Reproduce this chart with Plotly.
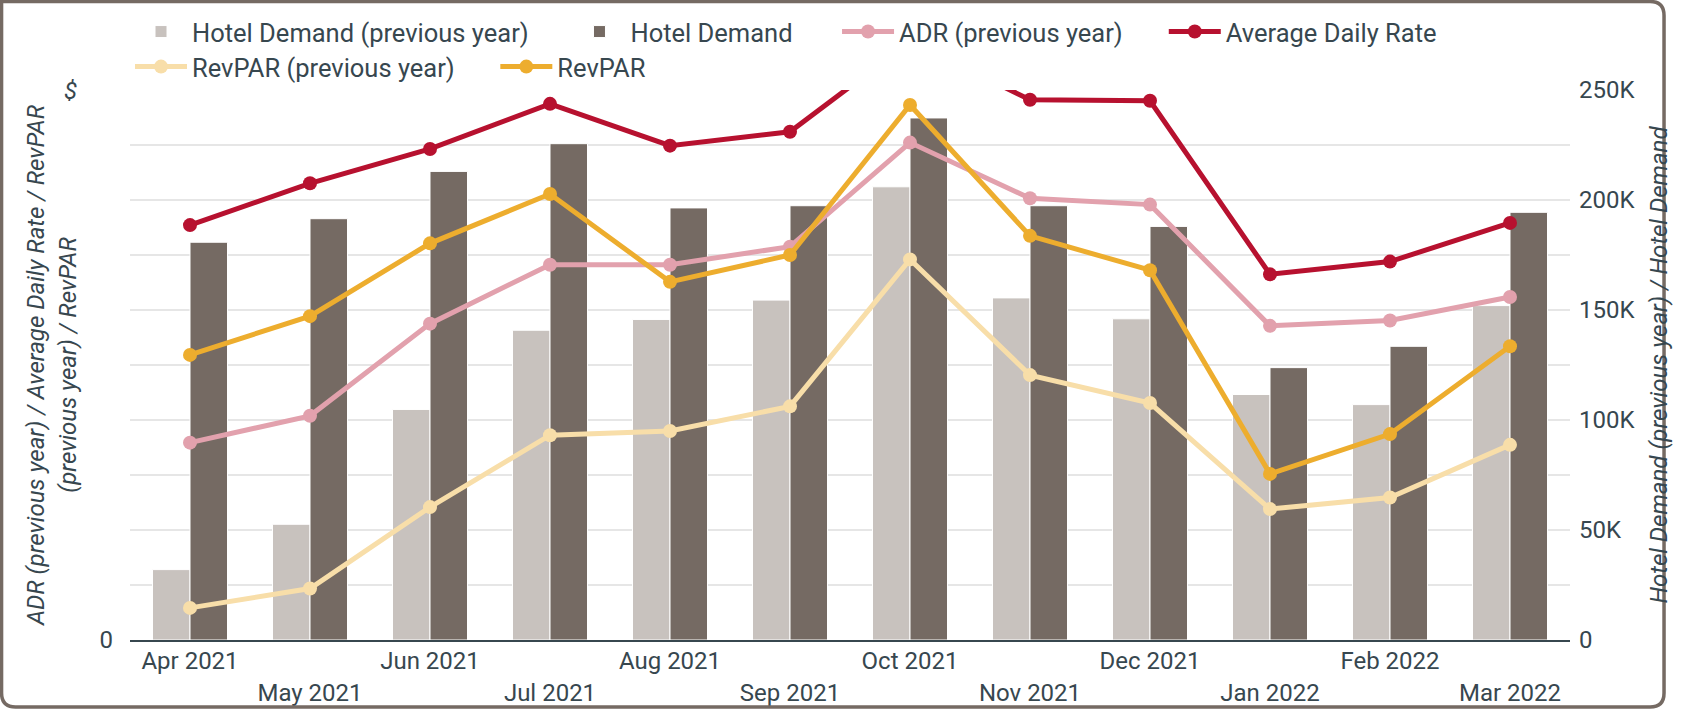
import plotly.graph_objects as go

months = ["Apr 2021", "May 2021", "Jun 2021", "Jul 2021", "Aug 2021", "Sep 2021",
          "Oct 2021", "Nov 2021", "Dec 2021", "Jan 2022", "Feb 2022", "Mar 2022"]

hotel_demand_prev = [32000, 52600, 104800, 140800, 145700, 154500, 206000, 155500, 146000, 111600, 107000, 152000]
hotel_demand = [180800, 191500, 213000, 225600, 196400, 197400, 237300, 197400, 188000, 123800, 133500, 194400]

adr_prev = [89.7, 101.9, 143.8, 170.6, 170.6, 178.8, 226.1, 200.8, 197.9, 142.8, 145.2, 155.9]
adr = [188.6, 207.6, 223.2, 243.7, 224.7, 231.0, 272.0, 245.6, 245.1, 166.2, 172.0, 189.6]
revpar_prev = [14.6, 23.4, 60.4, 93.1, 95.0, 106.2, 173.0, 120.4, 107.7, 59.5, 64.8, 88.7]
revpar = [129.6, 147.2, 180.3, 202.7, 162.8, 175.0, 243.2, 183.7, 168.1, 75.5, 93.6, 133.5]

demand_ticks = [0, 50000, 100000, 150000, 200000, 250000]
demand_ticktext = ["0", "50K", "100K", "150K", "200K", "250K"]

TEXT = "#37474f"
FONT = "Roboto"
FS = 24
LFS = 25.5

fig = go.Figure()

fig.add_trace(go.Bar(x=months, y=hotel_demand_prev, name="Hotel Demand (previous year)",
                     marker=dict(color="#c8c2be", line=dict(color="white", width=1)),
                     yaxis="y", legend="legend"))
fig.add_trace(go.Bar(x=months, y=hotel_demand, name="Hotel Demand",
                     marker=dict(color="#756a63", line=dict(color="white", width=1)),
                     yaxis="y", legend="legend2"))

line_series = [
    ("ADR (previous year)", adr_prev, "#e2a1ad", "legend3"),
    ("Average Daily Rate", adr, "#b7112f", "legend4"),
    ("RevPAR (previous year)", revpar_prev, "#f8dea9", "legend5"),
    ("RevPAR", revpar, "#edad2e", "legend6"),
]
for name, vals, col, leg in line_series:
    fig.add_trace(go.Scatter(x=months, y=vals, name=name, mode="lines+markers",
                             line=dict(color=col, width=5), marker=dict(color=col, size=14),
                             yaxis="y2", legend=leg))

# invisible trace so the second-row label axis is drawn
fig.add_trace(go.Scatter(x=[0], y=[0], xaxis="x2", yaxis="y", mode="markers",
                         marker=dict(opacity=0), showlegend=False, hoverinfo="skip"))

legend_common = dict(orientation="h", xanchor="left", yanchor="middle",
                     font=dict(size=LFS, color=TEXT), traceorder="normal",
                     itemwidth=52, tracegroupgap=0, bgcolor="rgba(0,0,0,0)")
ROW1, ROW2 = 1.1055, 1.0418

fig.update_layout(
    width=1685, height=709,
    paper_bgcolor="white", plot_bgcolor="white",
    font=dict(family=FONT, size=FS, color=TEXT),
    margin=dict(l=130, r=115, t=90, b=69, autoexpand=False),
    barmode="group", bargap=0.375, bargroupgap=0.0,
    showlegend=True,
    legend=dict(x=0.0, y=ROW1, **legend_common),
    legend2=dict(x=0.3045, y=ROW1, **legend_common),
    legend3=dict(x=0.4910, y=ROW1, **legend_common),
    legend4=dict(x=0.7179, y=ROW1, **legend_common),
    legend5=dict(x=0.0, y=ROW2, **legend_common),
    legend6=dict(x=0.2537, y=ROW2, **legend_common),
    xaxis=dict(type="category", categoryorder="array", categoryarray=months,
               range=[-0.5, 11.5], automargin=False,
               tickmode="array", tickvals=months[0::2], ticktext=months[0::2],
               showgrid=False, showline=True, linecolor=TEXT, linewidth=2,
               ticks="", tickfont=dict(size=FS, color=TEXT), ticklabelstandoff=-2),
    xaxis2=dict(overlaying="x", anchor="y", side="bottom", range=[-0.5, 11.5], automargin=False,
                tickmode="array", tickvals=list(range(1, 12, 2)), ticktext=months[1::2],
                showgrid=False, showline=False, zeroline=False, ticks="",
                tickfont=dict(size=FS, color=TEXT), ticklabelstandoff=36),
    yaxis=dict(side="right", range=[0, 250000], tickmode="array", automargin=False,
               tickvals=demand_ticks, ticktext=demand_ticktext,
               showgrid=True, gridcolor="#e6e6e6", gridwidth=1.5,
               minor=dict(dtick=25000, tick0=0, showgrid=True, gridcolor="#e6e6e6", gridwidth=1.5),
               zeroline=False, ticks="", ticklabelstandoff=8,
               tickfont=dict(size=FS, color=TEXT),
               title=dict(text="Hotel Demand (previous year) / Hotel Demand",
                          font=dict(size=FS, color=TEXT, style="italic"), standoff=15)),
    yaxis2=dict(overlaying="y", side="left", range=[0, 250], tickmode="array", automargin=False,
                tickvals=[0], ticktext=["0"], showgrid=False, zeroline=False, ticks="",
                ticklabelstandoff=16, tickfont=dict(size=FS, color=TEXT),
                title=dict(text="ADR (previous year) / Average Daily Rate / RevPAR<br>(previous year) / RevPAR",
                           font=dict(size=FS, color=TEXT, style="italic"), standoff=16)),
)

fig.add_annotation(text="$", xref="paper", yref="paper", x=-0.0354, y=0.998,
                   xanchor="right", yanchor="middle", showarrow=False,
                   font=dict(size=FS, color=TEXT, style="italic"))

# card border
fig.add_shape(type="path", xref="paper", yref="paper",
              path=("M -0.0892,1.1609 L 1.0556,1.1609 Q 1.0653,1.1609 1.0653,1.1354 "
                    "L 1.0653,-0.0963 Q 1.0653,-0.1218 1.0556,-0.1218 L -0.0795,-0.1218 "
                    "Q -0.0892,-0.1218 -0.0892,-0.0963 Z"),
              line=dict(color="#756a63", width=3.5), layer="above")

fig.write_html("out.html", config={"displayModeBar": False},
               post_script="document.body.style.margin='0';")
